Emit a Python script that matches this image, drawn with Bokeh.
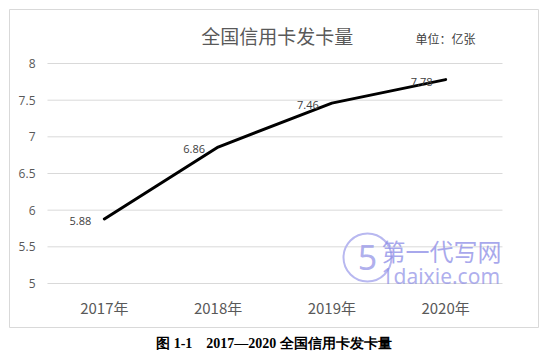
from bokeh.plotting import figure
from bokeh.models import Range1d, ColumnDataSource, Title
from bokeh.core.properties import value
from bokeh.embed import file_html
from bokeh.resources import INLINE

years = ["2017年", "2018年", "2019年", "2020年"]
cards = [5.88, 6.86, 7.46, 7.78]
y_ticks = [5, 5.5, 6, 6.5, 7, 7.5, 8]
y_tick_labels = ["5", "5.5", "6", "6.5", "7", "7.5", "8"]
title_text = "全国信用卡发卡量"
unit_text = "单位：亿张"
caption = "图 1-1\u00a0\u00a0\u00a0\u00a02017—2020 全国信用卡发卡量"

xs = [i + 0.5 for i in range(len(years))]
labels = ["%.2f" % v for v in cards]

p = figure(width=545, height=358, output_backend="svg", toolbar_location=None,
           x_range=Range1d(-0.334, 4.3165), y_range=Range1d(4.400, 8.7365),
           min_border_left=9, min_border_right=7, min_border_top=9, min_border_bottom=31)
p.xaxis.visible = False
p.yaxis.visible = False
p.xgrid.visible = False
p.ygrid.visible = False
p.outline_line_color = "#d9d9d9"
p.outline_line_width = 1
p.background_fill_color = "white"
p.border_fill_color = "white"

# grid lines
p.segment(x0=[0] * len(y_ticks), x1=[len(years)] * len(y_ticks), y0=y_ticks, y1=y_ticks,
          line_color="#d9d9d9", line_width=1)

# y tick labels
p.text(x=[0] * len(y_ticks), y=y_ticks, text=y_tick_labels, x_offset=-12,
       text_align="right", text_baseline="middle", text_font=value("Open Sans"),
       text_font_size="12px", text_color="#595959")

# x labels
p.text(x=xs, y=[5] * len(xs), text=years, y_offset=24, text_align="center",
       text_baseline="middle", text_font=value("Noto Sans CJK SC"),
       text_font_size="15px", text_color="#595959")

# watermark
p.circle(x=[(367 - 47) / 113.75], y=[5 + (283 - 257) / 73.33], radius=24,
         radius_units="screen", fill_color=None, line_color="#b8b8f0", line_width=2)
p.text(x=[(367 - 47) / 113.75], y=[5 + (283 - 257) / 73.33], text=["5"],
       text_align="center", text_baseline="middle", text_font=value("Noto Sans"),
       text_font_size="34px", text_color="#9a9ae8", text_alpha=0.8)
p.text(x=[(381 - 47) / 113.75], y=[5 + (283 - 250) / 73.33], text=["第一代写网"],
       text_align="left", text_baseline="middle", text_font=value("Noto Sans CJK SC"),
       text_font_size="24px", text_color="#8c8ce6", text_alpha=0.75)
p.text(x=[(381 - 47) / 113.75], y=[5 + (283 - 275) / 73.33], text=["1daixie.com"],
       text_align="left", text_baseline="middle", text_font=value("Noto Sans"),
       text_font_size="21px", text_color="#8c8ce6", text_alpha=0.7)

# line
src = ColumnDataSource(dict(x=xs, y=cards, label=labels))
p.line("x", "y", source=src, line_color="black", line_width=3, line_cap="round",
       line_join="round")

# data labels
p.text("x", "y", text="label", source=src, x_offset=-24, y_offset=2,
       text_align="center", text_baseline="middle", text_font=value("Open Sans"),
       text_font_size="11px", text_color="#404040")

# chart title and unit
p.text(x=[2.02], y=[8], text=[title_text], y_offset=-28, text_align="center",
       text_baseline="middle", text_font=value("Noto Sans CJK SC"),
       text_font_size="19px", text_color="#595959")
p.text(x=[3.235], y=[8], text=[unit_text], y_offset=-25, text_align="left",
       text_baseline="middle", text_font=value("Noto Sans CJK SC"),
       text_font_size="12px", text_color="#404040")

p.add_layout(Title(text=caption, align="center", text_font="Liberation Serif",
                   text_font_style="bold", text_font_size="14px", text_color="black",
                   standoff=12, offset=-6), "below")

open("out.html", "w").write(file_html(p, INLINE))
